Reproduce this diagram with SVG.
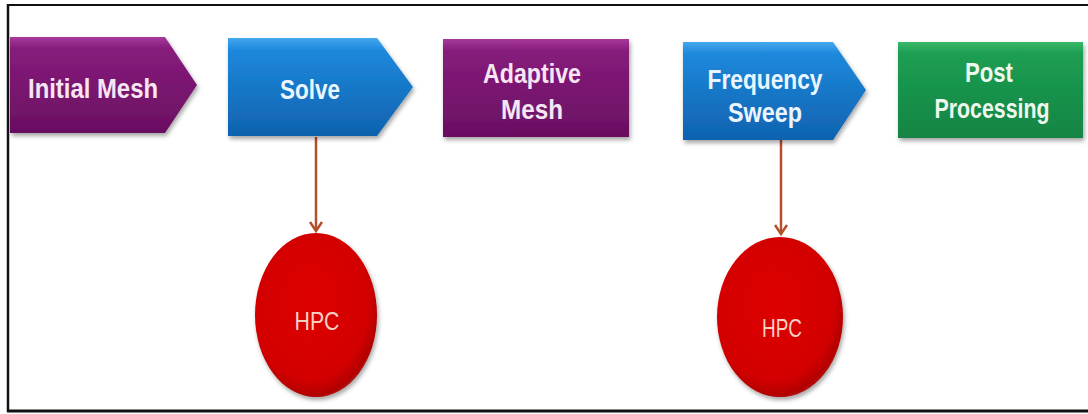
<svg xmlns="http://www.w3.org/2000/svg" width="1088" height="414" viewBox="0 0 1088 414">
  <style>
    .lbl { font-family: "Liberation Sans", Arial, sans-serif; font-weight: bold; font-size: 28px; text-anchor: middle; }
    .lp { fill: #f6e6f4; }
    .lb { fill: #eaf6ff; }
    .lg { fill: #eef8ee; }
    .hpc { font-family: "Liberation Sans", Arial, sans-serif; font-size: 26px; text-anchor: middle; fill: #f7cfc6; }
    .conn { stroke: #b4502c; stroke-width: 2.5; fill: none; }
    .frame { stroke: #111; fill: none; }
  </style>
  <defs>
    <linearGradient id="gPurple" x1="0" y1="0" x2="0" y2="1">
      <stop offset="0" stop-color="#a63a9b"/>
      <stop offset="0.12" stop-color="#861c7c"/>
      <stop offset="1" stop-color="#6a0f61"/>
    </linearGradient>
    <linearGradient id="gBlue" x1="0" y1="0" x2="0" y2="1">
      <stop offset="0" stop-color="#45a8ee"/>
      <stop offset="0.12" stop-color="#1e88dc"/>
      <stop offset="1" stop-color="#0f62ae"/>
    </linearGradient>
    <linearGradient id="gGreen" x1="0" y1="0" x2="0" y2="1">
      <stop offset="0" stop-color="#3ab869"/>
      <stop offset="0.12" stop-color="#1c9e52"/>
      <stop offset="1" stop-color="#138444"/>
    </linearGradient>
    <radialGradient id="gRed" cx="0.45" cy="0.42" r="0.6">
      <stop offset="0" stop-color="#de0000"/>
      <stop offset="0.8" stop-color="#d20000"/>
      <stop offset="1" stop-color="#a80808"/>
    </radialGradient>
    <filter id="shadow" x="-10%" y="-10%" width="125%" height="130%">
      <feDropShadow dx="1.5" dy="3" stdDeviation="2" flood-color="#000" flood-opacity="0.35"/>
    </filter>
    <marker id="arrow" markerWidth="14" markerHeight="14" refX="10" refY="7" orient="auto" markerUnits="userSpaceOnUse">
      <path d="M1,1 L10,7 L1,13" fill="none" stroke="#b4502c" stroke-width="2.5"/>
    </marker>
  </defs>

  <rect x="0" y="0" width="1088" height="414" fill="#ffffff"/>
  <g id="frame">
    <line class="frame" x1="8" y1="5" x2="1088" y2="5" stroke-width="2"/>
    <line class="frame" x1="8" y1="4" x2="8" y2="412" stroke-width="2.5"/>
    <line class="frame" x1="7" y1="411" x2="1088" y2="411" stroke-width="3"/>
  </g>

  <g id="connectors">
    <line class="conn" x1="316" y1="137" x2="316" y2="231" marker-end="url(#arrow)"/>
    <line class="conn" x1="781" y1="140" x2="781" y2="234" marker-end="url(#arrow)"/>
  </g>

  <g id="node-initial-mesh">
    <path d="M10,37 L165,37 L197,85 L165,133 L10,133 Z" fill="url(#gPurple)" filter="url(#shadow)"/>
    <text class="lbl lp" x="93" y="98" textLength="130" lengthAdjust="spacingAndGlyphs">Initial Mesh</text>
  </g>

  <g id="node-solve">
    <path d="M228,38 L377,38 L413,87 L377,136 L228,136 Z" fill="url(#gBlue)" filter="url(#shadow)"/>
    <text class="lbl lb" x="310" y="99" textLength="60" lengthAdjust="spacingAndGlyphs">Solve</text>
  </g>

  <g id="node-adaptive-mesh">
    <rect x="443" y="39" width="186" height="98" fill="url(#gPurple)" filter="url(#shadow)"/>
    <text class="lbl lp" x="532" y="83" textLength="98" lengthAdjust="spacingAndGlyphs">Adaptive</text>
    <text class="lbl lp" x="532" y="119" textLength="62" lengthAdjust="spacingAndGlyphs">Mesh</text>
  </g>

  <g id="node-frequency-sweep">
    <path d="M683,42 L833,42 L866,90 L833,140 L683,140 Z" fill="url(#gBlue)" filter="url(#shadow)"/>
    <text class="lbl lb" x="765" y="89" textLength="115" lengthAdjust="spacingAndGlyphs">Frequency</text>
    <text class="lbl lb" x="765" y="122" textLength="74" lengthAdjust="spacingAndGlyphs">Sweep</text>
  </g>

  <g id="node-post-processing">
    <rect x="898" y="42" width="185" height="96" fill="url(#gGreen)" filter="url(#shadow)"/>
    <text class="lbl lg" x="989" y="82" textLength="48" lengthAdjust="spacingAndGlyphs">Post</text>
    <text class="lbl lg" x="992" y="118" textLength="115" lengthAdjust="spacingAndGlyphs">Processing</text>
  </g>

  <g id="node-hpc-1">
    <ellipse cx="316" cy="315" rx="61" ry="82" fill="url(#gRed)" filter="url(#shadow)"/>
    <text class="hpc" x="317" y="330" textLength="45" lengthAdjust="spacingAndGlyphs">HPC</text>
  </g>

  <g id="node-hpc-2">
    <ellipse cx="780" cy="317" rx="63" ry="80" fill="url(#gRed)" filter="url(#shadow)"/>
    <text class="hpc" x="782" y="337" font-size="23" textLength="40" lengthAdjust="spacingAndGlyphs">HPC</text>
  </g>
</svg>
